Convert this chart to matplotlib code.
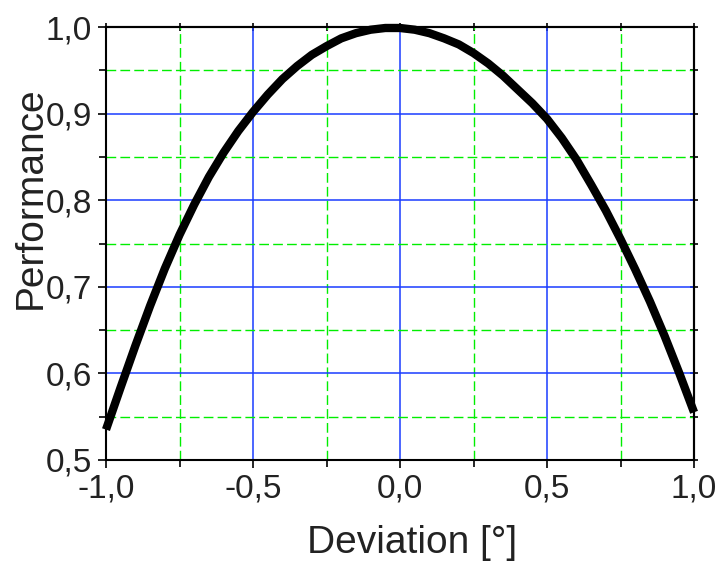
import matplotlib
matplotlib.use("Agg")
import matplotlib.pyplot as plt
from matplotlib.ticker import MultipleLocator, FuncFormatter, NullFormatter

# deviation in degrees, performance
deviation = [-1.00, -0.95, -0.90, -0.85, -0.80, -0.75, -0.70, -0.65, -0.60, -0.55,
             -0.50, -0.45, -0.40, -0.35, -0.30, -0.25, -0.20, -0.15, -0.10, -0.05,
             0.00, 0.05, 0.10, 0.15, 0.20, 0.25, 0.30, 0.35, 0.40, 0.45,
             0.50, 0.55, 0.60, 0.65, 0.70, 0.75, 0.80, 0.85, 0.90, 0.95, 1.00]
performance = [0.535, 0.584, 0.632, 0.678, 0.721, 0.760, 0.795, 0.827, 0.855, 0.880,
               0.902, 0.922, 0.940, 0.955, 0.968, 0.978, 0.987, 0.993, 0.997, 0.999,
               0.999, 0.997, 0.993, 0.987, 0.980, 0.970, 0.958, 0.944, 0.928, 0.912,
               0.894, 0.872, 0.847, 0.818, 0.788, 0.755, 0.720, 0.683, 0.643, 0.600, 0.555]

plt.rcParams['font.family'] = ['Liberation Sans', 'DejaVu Sans']

fig = plt.figure(figsize=(7.26, 5.65), dpi=100)
ax = fig.add_axes([0.146, 0.186, 0.81, 0.766])

ax.set_xlim(-1.0, 1.0)
ax.set_ylim(0.5, 1.0)
ax.xaxis.set_major_locator(MultipleLocator(0.5))
ax.xaxis.set_minor_locator(MultipleLocator(0.25))
ax.yaxis.set_major_locator(MultipleLocator(0.1))
ax.yaxis.set_minor_locator(MultipleLocator(0.05))
comma = FuncFormatter(lambda v, p: ("%.1f" % v).replace(".", ","))
ax.xaxis.set_major_formatter(comma)
ax.yaxis.set_major_formatter(comma)

ax.grid(which="minor", color="#00ee00", linestyle=(0, (7, 3)), linewidth=1.0, zorder=0)
ax.grid(which="major", color="#1a3cff", linestyle="-", linewidth=1.1, zorder=1)
ax.set_axisbelow(True)

ax.plot(deviation, performance, color="black", linewidth=6, solid_capstyle="butt",
        solid_joinstyle="round", zorder=3, clip_on=False)

for s in ax.spines.values():
    s.set_linewidth(1.5)
    s.set_color("black")
ax.tick_params(which="both", direction="out", labelsize=24, width=1.2, color="black", pad=4,
               labelcolor="#222222")
ax.tick_params(which="major", length=6)
ax.tick_params(which="minor", length=5)

# small ticks straddling the top and right frame
top = ax.secondary_xaxis("top")
top.xaxis.set_major_locator(MultipleLocator(0.25))
top.xaxis.set_major_formatter(NullFormatter())
top.tick_params(direction="inout", length=6, width=1.2)
right = ax.secondary_yaxis("right")
right.yaxis.set_major_locator(MultipleLocator(0.05))
right.yaxis.set_major_formatter(NullFormatter())
right.tick_params(direction="inout", length=6, width=1.2)
for sec in (top, right):
    for s in sec.spines.values():
        s.set_linewidth(1.5)

ax.set_xlabel("Deviation [°]", fontsize=28, color="#222222")
ax.set_ylabel("Performance", fontsize=28, color="#222222")
ax.xaxis.set_label_coords(0.52, -0.15)
ax.yaxis.set_label_coords(-0.098, 0.605)

fig.savefig("out.png", dpi=100)
